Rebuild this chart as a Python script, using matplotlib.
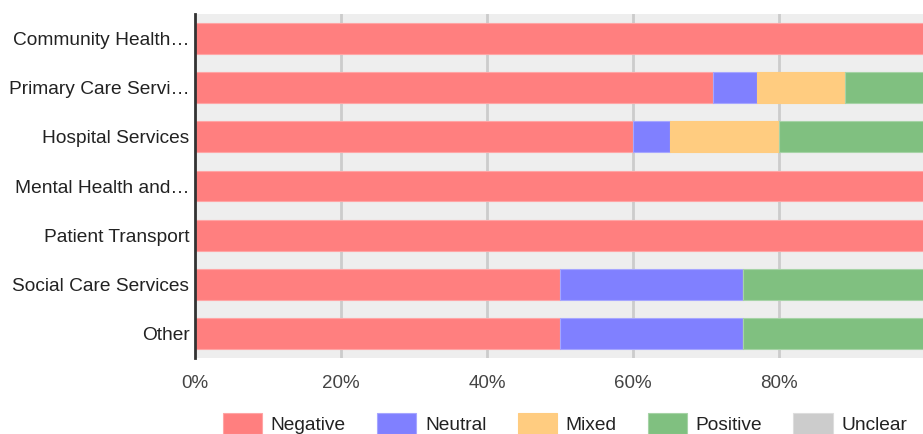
import matplotlib
matplotlib.use("Agg")
import matplotlib.pyplot as plt
import numpy as np
from matplotlib.ticker import FuncFormatter

plt.rcParams["font.family"] = ["Liberation Sans", "DejaVu Sans"]

# share of feedback per service, in percent
categories = [
    "Community Health…",
    "Primary Care Servi…",
    "Hospital Services",
    "Mental Health and…",
    "Patient Transport",
    "Social Care Services",
    "Other",
]
negative = [100, 71, 60, 100, 100, 50, 50]
neutral = [0, 6, 5, 0, 0, 25, 25]
mixed = [0, 12, 15, 0, 0, 0, 0]
positive = [0, 11, 20, 0, 0, 25, 25]
unclear = [0, 0, 0, 0, 0, 0, 0]

series = [
    ("Negative", negative, "#ff7f7f", "#ffa5a5"),
    ("Neutral", neutral, "#8080ff", "#a6a6ff"),
    ("Mixed", mixed, "#ffcc80", "#ffcc80"),
    ("Positive", positive, "#80c080", "#a6d3a6"),
    ("Unclear", unclear, "#cccccc", "#dddddd"),
]

fig = plt.figure(figsize=(9.23, 4.34), dpi=100)
ax = fig.add_axes([195 / 923, 76 / 434, (925 - 195) / 923, 344 / 434])
ax.set_facecolor("#eeeeee")

y = np.arange(len(categories))
left = np.zeros(len(categories))
for name, vals, color, edge in series:
    vals = np.array(vals, dtype=float)
    ax.barh(y, vals, left=left, height=0.63, color=color, edgecolor=edge,
            linewidth=0.8, label=name, zorder=2)
    left += vals

ax.set_xlim(0, 100)
ax.set_ylim(len(categories) - 0.5, -0.5)
ax.set_yticks(y)
ax.set_yticklabels(categories, fontsize=13.8, color="#222222")
# the 100% label falls outside the visible area in the original
ax.set_xticks([0, 20, 40, 60, 80])
ax.xaxis.set_major_formatter(FuncFormatter(lambda v, p: f"{v:.0f}%"))
ax.tick_params(axis="x", length=0, pad=12, labelsize=13.5, labelcolor="#444444")
ax.tick_params(axis="y", length=0, pad=4)
ax.grid(axis="x", color="#cccccc", linewidth=2, zorder=1)
ax.set_axisbelow(True)

for s in ["top", "right", "bottom"]:
    ax.spines[s].set_visible(False)
ax.spines["left"].set_color("#333333")
ax.spines["left"].set_linewidth(2)
ax.spines["left"].set_zorder(3)

fig.legend(loc="upper center", bbox_to_anchor=(565 / 923, 38 / 434), ncol=5,
           frameon=False, fontsize=13.8, handlelength=2.05, handleheight=1.25,
           handletextpad=0.45, columnspacing=1.63, labelcolor="#222222")

fig.savefig("out.png", dpi=100)
